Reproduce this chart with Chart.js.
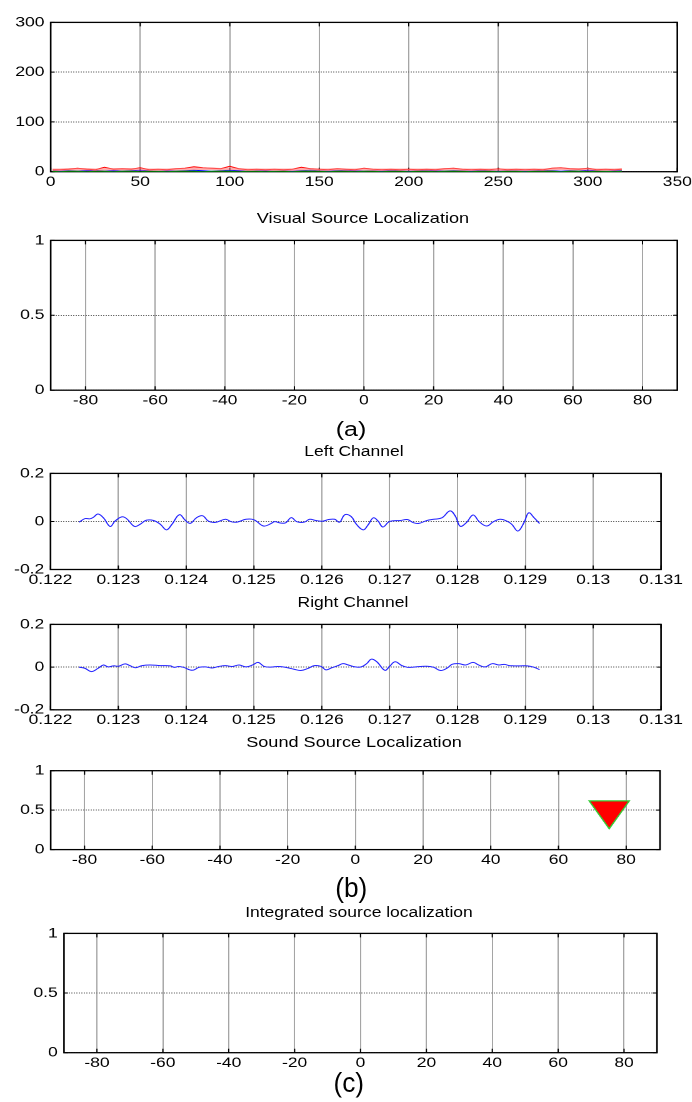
<!DOCTYPE html>
<html>
<head>
<meta charset="utf-8">
<script src="https://cdn.jsdelivr.net/npm/chart.js@4.4.1/dist/chart.umd.min.js"></script>
<style>
  html, body { margin: 0; padding: 0; background: #fff; overflow: hidden; width: 692px; height: 1102px; }
  #fig { position: absolute; left: 0; top: 0; width: 553.6px; height: 1102px;
         transform: scaleX(1.25); transform-origin: 0 0;
         font-family: "Liberation Sans", Arial, Helvetica, sans-serif; color: #000; }
  #fig canvas { position: absolute; left: 0; }
  .lbl { position: absolute; white-space: nowrap; line-height: 1; transform: translate(-50%, -50%); }
</style>
</head>
<body>
<div id="fig"></div>
<script>
// ---- colour channel traces per frame ----
const frameIdx = [1,5,10,15,20,25,30,35,40,45,50,55,60,65,70,75,80,85,90,95,100,105,110,115,120,125,130,135,140,145,150,155,160,165,170,175,180,185,190,195,200,205,210,215,220,225,230,235,240,245,250,255,260,265,270,275,280,285,290,295,300,305,310,315,319];
const redHaze = [4,4,5,5,5,4,5,5,5,5,5,4,4,4,5,5,6,6,6,5,6,5,4,4,4,4,4,4,5,5,4,4,5,4,4,5,4,4,4,4,4,4,4,4,5,5,4,4,4,4,4,4,4,4,4,4,5,6,5,5,5,4,4,4,5];
const redTrace = [4,4,5,7,5,4,9,5,6,5,8,4,5,4,6,7,10,8,7,6,11,6,4,5,4,5,4,5,9,6,5,4,6,5,4,7,5,4,5,4,5,4,5,4,6,7,5,4,5,4,6,4,5,4,5,4,7,8,6,5,7,4,5,4,5];
const greenTrace = [1,0,1,1,0,1,1,0,1,1,0,1,1,0,1,1,1,0,1,1,1,0,1,1,0,1,1,0,1,1,1,0,1,1,0,1,1,0,1,1,0,1,1,0,1,1,1,0,1,1,0,1,1,0,1,1,1,0,1,1,0,1,1,0,1];
const blueTrace = [2,1,2,1,2,3,1,2,1,2,3,2,1,2,1,2,3,2,1,2,3,2,1,2,2,1,2,1,2,3,2,1,2,3,2,1,2,1,3,2,1,2,3,2,1,2,2,1,3,2,1,2,2,1,2,3,2,1,2,1,3,2,1,2,2];
const frameTicks = [0,50,100,150,200,250,300,350];
const frameTickLabels = ['0','50','100','150','200','250','300','350'];
const countTicks = [0,100,200,300];
const countTickLabels = ['0','100','200','300'];

// ---- azimuth (degrees) / likelihood axes ----
const azimuthTicks = [-80,-60,-40,-20,0,20,40,60,80];
const azimuthTickLabels = ['-80','-60','-40','-20','0','20','40','60','80'];
const probTicks = [0,0.5,1];
const probTickLabels = ['0','0.5','1'];

// ---- microphone channels ----
const timeTicks = [0.122,0.123,0.124,0.125,0.126,0.127,0.128,0.129,0.13,0.131];
const timeTickLabels = ['0.122','0.123','0.124','0.125','0.126','0.127','0.128','0.129','0.13','0.131'];
const ampTicks = [-0.2,0,0.2];
const ampTickLabels = ['-0.2','0','0.2'];
const leftTime = [0.12242,0.12251,0.12258,0.12263,0.12270,0.12278,0.12288,0.12295,0.12305,0.12312,0.12324,0.12332,0.12341,0.12352,0.12362,0.12371,0.12379,0.12390,0.12399,0.12406,0.12415,0.12424,0.12433,0.12443,0.12458,0.12466,0.12475,0.12488,0.12500,0.12514,0.12525,0.12530,0.12540,0.12547,0.12555,0.12563,0.12574,0.12582,0.12591,0.12601,0.12610,0.12619,0.12626,0.12634,0.12643,0.12651,0.12661,0.12668,0.12676,0.12683,0.12690,0.12700,0.12716,0.12726,0.12735,0.12743,0.12755,0.12765,0.12777,0.12789,0.12797,0.12804,0.12813,0.12823,0.12832,0.12843,0.12853,0.12863,0.12873,0.12880,0.12889,0.12898,0.12905,0.12913,0.12921];
const leftAmp = [-0.003,0.012,0.011,0.017,0.031,0.015,-0.021,0.001,0.019,0.012,-0.021,-0.012,0.005,0.004,-0.012,-0.035,-0.012,0.028,0.004,-0.008,0.015,0.024,0.001,-0.004,0.009,-0.001,-0.003,0.009,0.007,-0.019,-0.009,-0.001,-0.007,-0.005,0.016,-0.001,-0.003,0.009,0.004,0.001,0.008,0.009,-0.003,0.028,0.021,-0.012,-0.035,-0.015,0.015,0.001,-0.023,0.000,0.004,0.008,-0.005,-0.008,0.004,0.009,0.015,0.044,0.021,-0.020,-0.005,0.027,-0.001,-0.019,-0.001,0.009,0.001,-0.012,-0.040,-0.005,0.036,0.015,-0.009];
const rightTime = [0.12242,0.12251,0.12260,0.12270,0.12278,0.12285,0.12293,0.12300,0.12310,0.12317,0.12325,0.12335,0.12347,0.12362,0.12377,0.12382,0.12389,0.12396,0.12409,0.12419,0.12428,0.12438,0.12448,0.12458,0.12468,0.12478,0.12488,0.12498,0.12506,0.12515,0.12525,0.12535,0.12545,0.12559,0.12569,0.12579,0.12589,0.12599,0.12606,0.12614,0.12624,0.12631,0.12639,0.12649,0.12658,0.12666,0.12673,0.12681,0.12693,0.12700,0.12708,0.12718,0.12726,0.12735,0.12745,0.12755,0.12765,0.12775,0.12785,0.12792,0.12802,0.12812,0.12823,0.12831,0.12841,0.12851,0.12861,0.12869,0.12876,0.12883,0.12893,0.12903,0.12913,0.12921];
const rightAmp = [0,-0.006,-0.021,-0.006,0.010,0.001,0.006,0.004,0.015,0.007,-0.003,0.007,0.010,0.007,0.006,-0.001,0.003,-0.001,-0.015,-0.001,0.001,-0.004,0.003,0.007,0.003,0.010,0.001,0.010,0.022,0.003,0,0.003,0,-0.010,-0.016,-0.007,0.007,0.003,-0.013,-0.004,0.007,0.016,0.010,0.001,0.001,0.016,0.037,0.025,-0.015,0.004,0.025,0.007,-0.001,0,0.003,0.004,-0.001,-0.016,-0.004,0.013,0.016,0.010,0.022,0.010,0.001,0.016,0.010,0.013,0.007,0.006,0.006,0.006,-0.001,-0.012];

// ---- localization results ----
const soundAzimuth = [75];
const soundScore = [0.5];

// ---- layout helpers ----
const SX = 1.25;             // horizontal stretch of the whole figure
const FONT = '"Liberation Sans", Arial, Helvetica, sans-serif';
const fig = document.getElementById('fig');

// MATLAB-style box with inward tick marks on all four sides
const matlabBox = {
  id: 'matlabBox',
  beforeDatasetsDraw(chart) {
    const { ctx, chartArea: a, scales: { x, y } } = chart;
    ctx.save();
    ctx.strokeStyle = '#000';
    ctx.lineWidth = 1;
    ctx.beginPath();
    for (const t of x.ticks) {
      const p = x.getPixelForValue(t.value);
      ctx.moveTo(p, a.bottom); ctx.lineTo(p, a.bottom - 4);
      ctx.moveTo(p, a.top); ctx.lineTo(p, a.top + 4);
    }
    for (const t of y.ticks) {
      const p = y.getPixelForValue(t.value);
      ctx.moveTo(a.left, p); ctx.lineTo(a.left + 3.2, p);
      ctx.moveTo(a.right, p); ctx.lineTo(a.right - 3.2, p);
    }
    ctx.stroke();
    ctx.lineWidth = 1.3;
    ctx.strokeRect(a.left, a.top, a.right - a.left, a.bottom - a.top);
    ctx.restore();
  }
};

function axis(min, max, ticks, labels, isX, size, grid) {
  return {
    type: 'linear', min, max,
    afterBuildTicks: s => { s.ticks = ticks.map(v => ({ value: v })); },
    afterFit: s => { if (isX) s.height = size; else s.width = size; },
    ticks: {
      callback: (v, i) => labels[i],
      font: { family: FONT, size: 14 },
      color: '#000',
      padding: isX ? 2 : 5,
      autoSkip: false, maxRotation: 0, minRotation: 0
    },
    grid: { color: grid.color, lineWidth: grid.width, drawTicks: false },
    border: { display: false, dash: grid.dash || [] }
  };
}

function panel(box, xs, ys, datasets) {
  const padTop = 10, padRight = 40;
  const left = box.L / SX, right = box.R / SX;
  const cw = Math.ceil(right + padRight);
  const ch = Math.round(box.B - box.T + padTop + 28);
  const xAxisH = ch - padTop - (box.B - box.T);
  const canvas = document.createElement('canvas');
  canvas.width = cw; canvas.height = ch;
  canvas.style.top = (box.T - padTop) + 'px';
  fig.appendChild(canvas);
  new Chart(canvas, {
    type: 'scatter',
    data: { datasets },
    options: {
      responsive: false, animation: false, devicePixelRatio: 2,
      layout: { padding: { top: padTop, right: cw - right, left: 0, bottom: 0 } },
      plugins: { legend: { display: false }, tooltip: { enabled: false } },
      scales: {
        x: axis(xs.min, xs.max, xs.ticks, xs.labels, true, xAxisH, { color: '#8f8f8f', width: 0.8 }),
        y: axis(ys.min, ys.max, ys.ticks, ys.labels, false, left, { color: '#6a6a6a', width: 1, dash: [1, 1] })
      }
    },
    plugins: [matlabBox]
  });
}

function label(text, cx, cy, size, squeeze) {
  const d = document.createElement('div');
  d.className = 'lbl';
  d.textContent = text;
  d.style.left = (cx / SX) + 'px';
  d.style.top = cy + 'px';
  d.style.fontSize = size + 'px';
  if (squeeze) d.style.transform = 'translate(-50%, -50%) scaleX(' + squeeze + ')';
  fig.appendChild(d);
}

const pts = (xa, ya) => xa.map((v, i) => ({ x: v, y: ya[i] }));
const trace = (xa, ya, color, width) => ({
  data: pts(xa, ya), showLine: true, borderColor: color, borderWidth: width,
  pointRadius: 0, tension: 0
});
const wave = (xa, ya) => ({
  data: pts(xa, ya), showLine: true, borderColor: '#2222ff', borderWidth: 1,
  pointRadius: 0, tension: 0.4
});

const frameAxis = { min: 0, max: 350, ticks: frameTicks, labels: frameTickLabels };
const countAxis = { min: 0, max: 300, ticks: countTicks, labels: countTickLabels };
const azAxis = { min: -90, max: 90, ticks: azimuthTicks, labels: azimuthTickLabels };
const probAxis = { min: 0, max: 1, ticks: probTicks, labels: probTickLabels };
const timeAxis = { min: 0.122, max: 0.131, ticks: timeTicks, labels: timeTickLabels };
const ampAxis = { min: -0.2, max: 0.2, ticks: ampTicks, labels: ampTickLabels };

// colour histogram traces
panel({ L: 50.7, R: 677.3, T: 19, B: 171.7 }, frameAxis, countAxis, [
  trace(frameIdx, redHaze, 'rgba(255,120,120,0.6)', 2.5),
  trace(frameIdx, greenTrace, '#00b400', 1),
  trace(frameIdx, redTrace, '#ff0000', 1),
  trace(frameIdx, blueTrace, '#0000ff', 1)
]);

// visual source localization
label('Visual Source Localization', 363, 218.3, 14.5);
panel({ L: 50.7, R: 677.3, T: 236.8, B: 390 }, azAxis, probAxis, []);
label('(a)', 351, 428.7, 20);

// left / right microphone channels
label('Left Channel', 354, 450.7, 14);
panel({ L: 50.5, R: 661, T: 470.3, B: 569.8 }, timeAxis, ampAxis, [wave(leftTime, leftAmp)]);
label('Right Channel', 353, 601.7, 14);
panel({ L: 50.5, R: 661, T: 621.2, B: 710 }, timeAxis, ampAxis, [wave(rightTime, rightAmp)]);

// sound source localization
label('Sound Source Localization', 354, 741.7, 14.5);
panel({ L: 50.7, R: 660, T: 760.7, B: 849.3 }, azAxis, probAxis, [{
  data: pts(soundAzimuth, soundScore),
  pointStyle: 'triangle', rotation: 180, pointRadius: 18.5,
  backgroundColor: '#ff0000', borderColor: '#33cc33', borderWidth: 1.2
}]);
label('(b)', 351, 888.1, 27, 0.78);

// integrated source localization
label('Integrated source localization', 359, 911.7, 14);
panel({ L: 64, R: 657, T: 930, B: 1052.7 }, azAxis, probAxis, []);
label('(c)', 349, 1083.1, 27, 0.78);
</script>
</body>
</html>
